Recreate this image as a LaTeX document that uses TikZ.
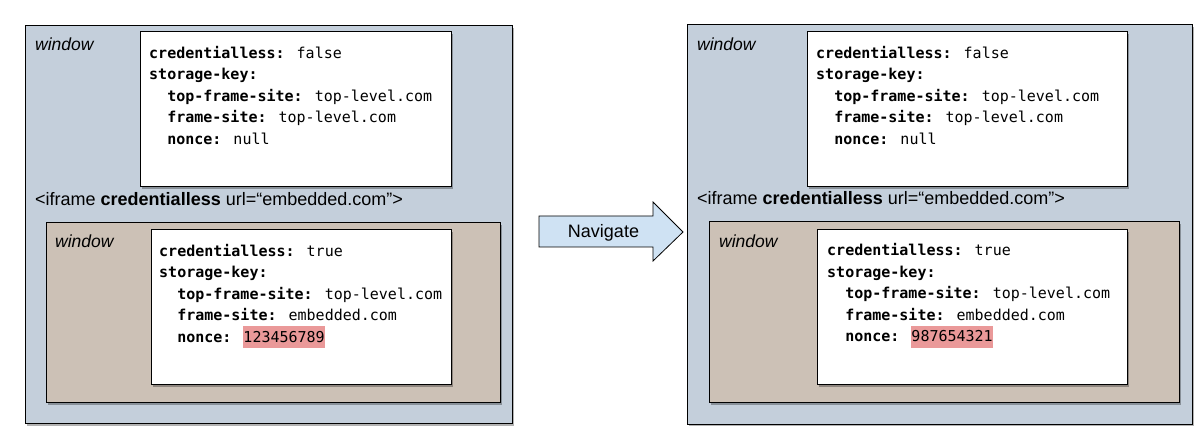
\documentclass[tikz,border=0pt]{standalone}
\usepackage{fontspec}
\setmainfont{Liberation Sans}
\newfontfamily\monof{DejaVu Sans Mono}
\usetikzlibrary{shadows}
\definecolor{outerfill}{HTML}{C4CFDB}
\definecolor{brownfill}{HTML}{CCC1B6}
\definecolor{arrowfill}{HTML}{CFE2F3}
\definecolor{hl}{HTML}{EA9999}
\newcommand\hlbox[1]{{\setlength\fboxsep{0pt}\colorbox{hl}{\rule[-6pt]{0pt}{22pt}#1}}}
\newcommand\ind{\hspace*{18.06pt}}
\newcommand\keyboxtext[4]{\rule{0pt}{12pt}\textbf{credentialless:} #1\\
\textbf{storage-key:}\\
\ind\textbf{top-frame-site:} top-level.com\\
\ind\textbf{frame-site:} #2\\
\ind\textbf{nonce:} #3}
\begin{document}
\begin{tikzpicture}[x=1pt,y=-1pt,
  box/.style={draw=black, line width=0.9pt, anchor=north west, inner sep=0pt,
    drop shadow={shadow xshift=2pt, shadow yshift=-2.5pt, opacity=0.3, fill=black}},
  outerbox/.style={box, fill=outerfill},
  brownbox/.style={box, fill=brownfill},
  whitebox/.style={box, fill=white},
  lbl/.style={anchor=base west, inner sep=0pt, font=\fontsize{17.5}{20}\selectfont\itshape},
  iframelbl/.style={anchor=base west, inner sep=0pt, font=\fontsize{18}{20}\selectfont},
  code/.style={anchor=north west, inner sep=0pt, align=left, font=\fontsize{15}{21.5}\selectfont\monof},
  arrowshape/.style={draw=black, line width=0.8pt, fill=arrowfill}]
\useasboundingbox (0,0) rectangle (1196,430);
% left side
\node[outerbox, minimum width=487pt, minimum height=398pt] (Lout) at (25,25) {};
\node[whitebox, minimum width=311pt, minimum height=155pt] (Ltop) at (140,31) {};
\node[lbl] (Lwin) at (35,51) {window};
\node[code] (Ltoptext) at (149,46) {\keyboxtext{false}{top-level.com}{null}{}};
\node[iframelbl] (Lif) at (35,205.5) {<iframe \textbf{credentialless} url=“embedded.com”>};
\node[brownbox, minimum width=454pt, minimum height=180pt] (Lin) at (46,222) {};
\node[whitebox, minimum width=300pt, minimum height=155pt] (Linw) at (151,229) {};
\node[lbl] (Linwin) at (55,248) {window};
\node[code] (Lintext) at (159,244) {\keyboxtext{true}{embedded.com}{\hlbox{123456789}}{}};
% arrow
\draw[arrowshape] (539,216) -- (653,216) -- (653,202) -- (683,232) -- (653,261) -- (653,247) -- (539,247) -- cycle;
\node[anchor=base, inner sep=0pt, font=\fontsize{18}{20}\selectfont] (nav) at (603.5,237.5) {Navigate};
% right side
\node[outerbox, minimum width=505pt, minimum height=399pt] (Rout) at (687,24.5) {};
\node[whitebox, minimum width=320pt, minimum height=155pt] (Rtop) at (807,31) {};
\node[lbl] (Rwin) at (697,51) {window};
\node[code] (Rtoptext) at (816,46) {\keyboxtext{false}{top-level.com}{null}{}};
\node[iframelbl] (Rif) at (697,204.5) {<iframe \textbf{credentialless} url=“embedded.com”>};
\node[brownbox, minimum width=470pt, minimum height=181pt] (Rin) at (709,221) {};
\node[whitebox, minimum width=310pt, minimum height=155pt] (Rinw) at (817,229) {};
\node[lbl] (Rinwin) at (719,248) {window};
\node[code] (Rintext) at (827,243.5) {\keyboxtext{true}{embedded.com}{\hlbox{987654321}}{}};
\end{tikzpicture}
\end{document}
